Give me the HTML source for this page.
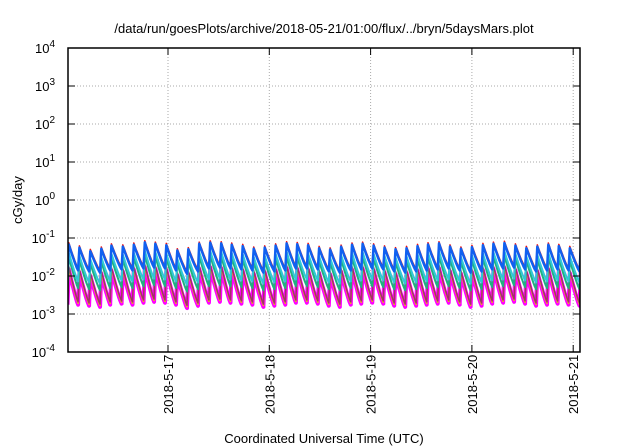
<!DOCTYPE html>
<html><head><meta charset="utf-8"><style>
body{margin:0;background:#fff;}
svg{display:block;font-family:"Liberation Sans",sans-serif;}
</style></head><body>
<svg id="chart" width="640" height="448">
<text x="324" y="33" font-size="13" text-anchor="middle">/data/run/goesPlots/archive/2018-05-21/01:00/flux/../bryn/5daysMars.plot</text>
<text transform="translate(22,200) rotate(-90)" font-size="13" text-anchor="middle">cGy/day</text>
<text x="324" y="443" font-size="13" text-anchor="middle">Coordinated Universal Time (UTC)</text>
<g id="grid"></g><g id="series"></g><g id="axes"></g>
</svg>
<script>
const yExps=[4,3,2,1,0,-1,-2,-3,-4];
const xTickLabels=["2018-5-17","2018-5-18","2018-5-19","2018-5-20","2018-5-21"];
const xTickHours=[24,48,72,96,120];
const peakHours=[0.5,3.0,5.6,8.2,10.6,13.3,15.9,18.5,21.0,23.6,26.2,28.8,31.4,34.0,36.6,39.1,41.7,44.3,46.9,49.5,52.1,54.6,57.2,59.8,62.4,65.0,67.6,70.1,72.7,75.3,77.9,80.5,83.1,85.6,88.2,90.8,93.4,96.0,98.6,101.1,103.7,106.3,108.9,111.5,114.1,116.6,119.2,121.8];
const peakValues=[0.075,0.062,0.050,0.058,0.070,0.066,0.074,0.085,0.078,0.072,0.052,0.056,0.078,0.084,0.080,0.074,0.068,0.058,0.062,0.070,0.080,0.076,0.072,0.060,0.055,0.065,0.074,0.078,0.070,0.062,0.056,0.060,0.068,0.075,0.080,0.066,0.058,0.064,0.072,0.078,0.082,0.070,0.060,0.066,0.074,0.068,0.060,0.066];
const troughValues=[0.016,0.015,0.014,0.016,0.017,0.016,0.018,0.019,0.018,0.016,0.013,0.015,0.018,0.019,0.018,0.017,0.016,0.014,0.015,0.016,0.018,0.018,0.017,0.015,0.014,0.016,0.017,0.018,0.017,0.015,0.014,0.015,0.016,0.017,0.018,0.016,0.014,0.015,0.017,0.018,0.019,0.017,0.015,0.016,0.017,0.016,0.015,0.016];
const seriesNames=["magenta","yellow","brown","green","cyan","red","blue"];
const seriesColors=["#ff00ff","#e6c800","#a0306a","#20b080","#30c8d8","#f01010","#1060f0"];
const seriesPeakFactor=[0.2,0.22,0.24,0.42,0.55,1.0,0.9];
const seriesTroughFactor=[0.11,0.12,0.13,0.3,0.45,1.0,0.88];
const seriesWidth=[4,1.5,1.5,2,2,1.5,2.5];
const L=68,R=580,T=48,B=352;
const xh=h=>168+(h-24)*101.3/24;
const yv=v=>B-(Math.log10(v)+4)*(B-T)/8;
const ns="http://www.w3.org/2000/svg";
function mk(t,a,p){const e=document.createElementNS(ns,t);for(const k in a)e.setAttribute(k,a[k]);p.appendChild(e);return e;}
const grid=document.getElementById('grid'),axes=document.getElementById('axes'),sg=document.getElementById('series');
yExps.forEach(e=>{const y=yv(Math.pow(10,e));
 if(e<4&&e>-4){const g=mk('line',{x1:L,x2:R,y1:y,y2:y,stroke:'#aaa','stroke-dasharray':'1,2','stroke-width':1},grid);
 
 }
 const t1=mk('line',{x1:L,x2:L+7,y1:y,y2:y,stroke:'#000'},axes);
 const t2=mk('line',{x1:R,x2:R-7,y1:y,y2:y,stroke:'#000'},axes);
 const tx=mk('text',{x:55,y:y+5,'font-size':13,'text-anchor':'end'},axes);
 
 
 tx.innerHTML='10<tspan dy="-6" font-size="10">'+e+'</tspan>';
});
xTickHours.forEach((h,i)=>{const x=xh(h);
 const g=mk('line',{x1:x,x2:x,y1:T,y2:B,stroke:'#aaa','stroke-dasharray':'1,2'},grid);
 
 
 const t1=mk('line',{x1:x,x2:x,y1:B,y2:B-7,stroke:'#000'},axes);
 const t2=mk('line',{x1:x,x2:x,y1:T,y2:T+7,stroke:'#000'},axes);
 const tx=mk('text',{transform:`translate(${x+5},${B+62}) rotate(-90)`,'font-size':13},axes);
 
 
 tx.textContent=xTickLabels[i];
});
const fr=mk('rect',{x:L,y:T,width:R-L,height:B-T,fill:'none',stroke:'#000','stroke-width':1.5},axes);


const clip=mk('clipPath',{id:'cp'},document.getElementById('chart'));mk('rect',{x:L,y:T,width:R-L,height:B-T},clip);
sg.setAttribute('clip-path','url(#cp)');
seriesNames.forEach((n,s)=>{
 let d='';
 for(let i=0;i<peakHours.length;i++){
  const h0=peakHours[i],h1=i+1<peakHours.length?peakHours[i+1]:h0+2.6;
  const P=peakValues[i]*seriesPeakFactor[s],Tv=troughValues[i]*seriesTroughFactor[s];
  const prevT=i>0?troughValues[i-1]*seriesTroughFactor[s]:Tv;
  if(i===0)d+=`M${xh(h0-0.3)},${yv(prevT)}`;else d+=`L${xh(h0-0.3)},${yv(prevT)}`;
  for(let k=0;k<=8;k++){const f=k/8;const hh=h0+f*(h1-0.3-h0);
   const lv=Math.log10(Tv)+(Math.log10(P)-Math.log10(Tv))*Math.pow(1-f,1.15);
   d+=`L${xh(hh).toFixed(1)},${yv(Math.pow(10,lv)).toFixed(1)}`;}
 }
 const p=mk('path',{d:d,fill:'none',stroke:seriesColors[s],'stroke-width':seriesWidth[s],'stroke-linejoin':'round'},sg);
 
 
});
</script>
</body></html>
